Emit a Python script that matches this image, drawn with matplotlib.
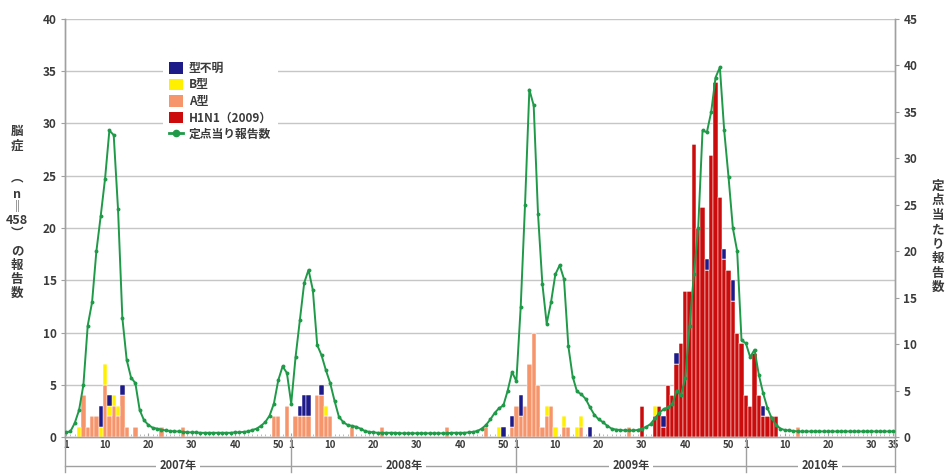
import matplotlib
matplotlib.use("Agg")
import matplotlib.pyplot as plt
from matplotlib.lines import Line2D
from matplotlib.patches import Patch
from matplotlib.transforms import blended_transform_factory
import numpy as np

plt.rcParams['font.family'] = ['Noto Sans CJK JP', 'DejaVu Sans']

# ---- data -------------------------------------------------------------
year_labels = ['2007年', '2008年', '2009年', '2010年']
weeks_in_year = [52, 52, 53, 35]
week_ticks = [[1, 10, 20, 30, 40, 50],
              [1, 10, 20, 30, 40, 50],
              [1, 10, 20, 30, 40, 50],
              [1, 10, 20, 30, 35]]

# influenza reports per sentinel site, weekly (right axis)
per_sentinel_2007 = [0.5, 0.6, 1.5, 2.9, 5.6, 12.0, 14.5, 20.0, 23.8, 27.8,
                     33.0, 32.5, 24.5, 12.8, 8.3, 6.4, 5.8, 2.9, 1.8, 1.3,
                     1.0, 0.9, 0.8, 0.7, 0.65, 0.6, 0.6, 0.55, 0.5, 0.5,
                     0.5, 0.45, 0.45, 0.45, 0.45, 0.45, 0.45, 0.45, 0.45, 0.5,
                     0.5, 0.55, 0.6, 0.75, 0.9, 1.2, 1.6, 2.3, 3.6, 6.1,
                     7.6, 6.9]
per_sentinel_2008 = [3.6, 8.6, 12.6, 16.6, 18.0, 15.8, 9.9, 8.8, 7.2, 5.8,
                     3.9, 2.2, 1.6, 1.3, 1.2, 1.1, 0.9, 0.65, 0.55, 0.5,
                     0.45, 0.45, 0.45, 0.45, 0.45, 0.4, 0.4, 0.4, 0.4, 0.4,
                     0.4, 0.4, 0.4, 0.4, 0.4, 0.4, 0.4, 0.45, 0.45, 0.45,
                     0.45, 0.5, 0.55, 0.65, 0.9, 1.3, 1.9, 2.6, 3.1, 3.4,
                     5.0, 7.0]
per_sentinel_2009 = [6.0, 14.0, 25.0, 37.4, 35.7, 24.0, 16.5, 12.2, 14.5, 17.5,
                     18.5, 17.0, 9.8, 6.5, 4.9, 4.6, 4.1, 3.2, 2.4, 1.9,
                     1.6, 1.2, 0.9, 0.8, 0.75, 0.7, 0.7, 0.7, 0.75, 0.9,
                     1.1, 1.4, 2.0, 2.6, 3.0, 3.2, 3.5, 5.0, 4.5, 6.3,
                     12.0, 17.5, 22.5, 33.0, 32.8, 35.0, 38.7, 39.8, 33.0, 28.0,
                     22.5, 20.0, 10.4]
per_sentinel_2010 = [10.1, 8.6, 9.4, 6.7, 4.7, 3.1, 2.0, 1.3, 0.9, 0.75,
                     0.7, 0.65, 0.6, 0.6, 0.6, 0.6, 0.6, 0.6, 0.6, 0.6,
                     0.6, 0.6, 0.6, 0.6, 0.6, 0.6, 0.6, 0.6, 0.6, 0.6,
                     0.6, 0.6, 0.6, 0.6, 0.6]

# encephalopathy reports by virus type, {week: count}
h1n1_2009 = {30: 3, 33: 2, 34: 3, 35: 1, 36: 5, 37: 4, 38: 7, 39: 9, 40: 14,
             41: 14, 42: 28, 43: 20, 44: 22, 45: 16, 46: 27, 47: 34, 48: 23,
             49: 17, 50: 16, 51: 13, 52: 10, 53: 9}
h1n1_2010 = {1: 4, 2: 3, 3: 8, 4: 4, 5: 2, 6: 2, 7: 2, 8: 2}

type_a_2007 = {5: 4, 6: 1, 7: 2, 8: 2, 10: 5, 11: 2, 12: 3, 13: 2, 14: 4,
               15: 1, 17: 1, 23: 1, 28: 1, 49: 2, 50: 2, 52: 3}
type_a_2008 = {2: 2, 3: 2, 4: 2, 5: 2, 7: 4, 8: 4, 9: 2, 10: 2, 15: 1,
               22: 1, 37: 1, 46: 1, 52: 1}
type_a_2009 = {1: 3, 2: 2, 3: 3, 4: 7, 5: 10, 6: 5, 7: 1, 8: 2, 9: 3,
               12: 1, 13: 1, 16: 1, 27: 1}
type_a_2010 = {13: 1}

type_b_2007 = {4: 1, 9: 1, 10: 2, 11: 1, 12: 1, 13: 1}
type_b_2008 = {9: 1, 49: 1}
type_b_2009 = {8: 1, 10: 1, 12: 1, 15: 1, 16: 1, 33: 1}

unknown_2007 = {9: 2, 11: 1, 14: 1}
unknown_2008 = {3: 1, 4: 2, 5: 2, 8: 1, 50: 1, 52: 1}
unknown_2009 = {2: 2, 18: 1, 35: 1, 38: 1, 45: 1, 49: 1, 51: 2}
unknown_2010 = {5: 1}

# ---- helpers ----------------------------------------------------------
offsets = np.concatenate([[0], np.cumsum(weeks_in_year)[:-1]])
n_weeks = int(sum(weeks_in_year))
years = [2007, 2008, 2009, 2010]


def weekly(by_year):
    arr = np.zeros(n_weeks)
    for yr, counts in by_year.items():
        off = offsets[years.index(yr)]
        for wk, v in counts.items():
            arr[off + wk - 1] = v
    return arr


h1n1 = weekly({2009: h1n1_2009, 2010: h1n1_2010})
type_a = weekly({2007: type_a_2007, 2008: type_a_2008,
                 2009: type_a_2009, 2010: type_a_2010})
type_b = weekly({2007: type_b_2007, 2008: type_b_2008, 2009: type_b_2009})
unknown = weekly({2007: unknown_2007, 2008: unknown_2008,
                  2009: unknown_2009, 2010: unknown_2010})
per_sentinel = np.array(per_sentinel_2007 + per_sentinel_2008 +
                        per_sentinel_2009 + per_sentinel_2010)
x = np.arange(n_weeks)

# ---- colours ----------------------------------------------------------
c_unknown = '#1d1a8a'
c_b = '#fff000'
c_a = '#f6956b'
c_h1n1 = '#cc0c0c'
c_line = '#1f9a48'
c_grid = '#c6c6c6'
c_axis = '#a0a0a0'
c_text = '#3a3a3a'

W, H = 946, 474
fig = plt.figure(figsize=(W / 100, H / 100), dpi=100)
left_px, right_px, top_px, bot_px = 65, 895, 19, 437
ax = fig.add_axes([left_px / W, 1 - bot_px / H,
                   (right_px - left_px) / W, (bot_px - top_px) / H])
ax2 = ax.twinx()

# stacked bars
bottom = np.zeros(n_weeks)
for vals, col in [(h1n1, c_h1n1), (type_a, c_a), (type_b, c_b),
                  (unknown, c_unknown)]:
    ax.bar(x, vals, width=1.0, bottom=bottom, color=col,
           edgecolor='white', linewidth=0.35, zorder=3)
    bottom = bottom + vals

ax.set_ylim(0, 40)
ax.set_yticks(np.arange(0, 41, 5))
ax2.set_ylim(0, 45)
ax2.set_yticks(np.arange(0, 46, 5))
ax.set_xlim(-0.25, n_weeks - 1 + 0.45)

ax.yaxis.grid(True, color=c_grid, linewidth=1.0, zorder=0)
ax.set_axisbelow(True)

ax2.plot(x, per_sentinel, color=c_line, linewidth=1.4, marker='o',
         markersize=2.8, markeredgewidth=0, zorder=5)

# x ticks: week numbers within each year
tick_pos, tick_lab = [], []
for off, wks in zip(offsets, week_ticks):
    for wk in wks:
        tick_pos.append(off + wk - 1)
        tick_lab.append(str(wk))
ax.set_xticks(tick_pos)
ax.set_xticklabels(tick_lab, fontweight='bold')
ax.set_xticks(x, minor=True)
ax.tick_params(axis='x', which='major', length=3, direction='in',
               color=c_axis, labelsize=7, labelcolor=c_text, pad=2)
ax.tick_params(axis='x', which='minor', length=2, direction='in',
               color='#b0b0b0', width=0.6)
ax.tick_params(axis='y', length=3, color=c_axis, labelsize=8.5,
               labelcolor=c_text, pad=3)
ax2.tick_params(axis='y', length=3, color=c_axis, labelsize=8.5,
                labelcolor=c_text, pad=3)
for lab in ax.get_yticklabels() + ax2.get_yticklabels():
    lab.set_fontweight('bold')

for a in (ax, ax2):
    a.spines['top'].set_visible(False)
    for s in ('left', 'right', 'bottom'):
        a.spines[s].set_color(c_axis)
        a.spines[s].set_linewidth(1.0)

# year band under the axis
tr = blended_transform_factory(ax.transData, ax.transAxes)
band_y = -(466 - bot_px) / (bot_px - top_px)
band_bottom = -(472 - bot_px) / (bot_px - top_px)
edges = [-0.25] + [o for o in offsets[1:]] + [n_weeks - 1 + 0.45]
for e in edges:
    ax.plot([e, e], [0, band_bottom], transform=tr, color=c_axis,
            linewidth=1.0, clip_on=False)
ax.plot([edges[0], edges[-1]], [band_y, band_y], transform=tr,
        color=c_axis, linewidth=1.0, clip_on=False)
for i, lab in enumerate(year_labels):
    mid = (edges[i] + edges[i + 1]) / 2
    ax.text(mid, band_y, lab, transform=tr, ha='center', va='center',
            fontsize=8, color=c_text, fontweight='bold',
            bbox=dict(boxstyle='square,pad=0.3', fc='white', ec='none'))

# vertical axis titles, one glyph per row
left_title = ['脳', '症', '︵', 'n', '‖', '458', '︶', 'の', '報', '告', '数']
left_rows = [131, 146, 178, 195, 207, 221, 233, 251, 265, 279, 293]
for tok, yp in zip(left_title, left_rows):
    fig.text(17 / W, 1 - yp / H, tok, ha='center', va='center',
             fontsize=9, color=c_text, fontweight='bold')
right_title = list('定点当たり報告数')
for i, tok in enumerate(right_title):
    yp = 186 + i * 14.5
    fig.text(938 / W, 1 - yp / H, tok, ha='center', va='center',
             fontsize=9, color=c_text, fontweight='bold')

# legend
handles = [Patch(facecolor=c_unknown, edgecolor='none'),
           Patch(facecolor=c_b, edgecolor='none'),
           Patch(facecolor=c_a, edgecolor='none'),
           Patch(facecolor=c_h1n1, edgecolor='none'),
           Line2D([], [], color=c_line, linewidth=2, marker='o',
                  markersize=4.5)]
labels = ['型不明', 'B型', 'A型', 'H1N1（2009）', '定点当り報告数']
leg = ax2.legend(handles, labels, loc='upper left',
                 bbox_to_anchor=(163 / W, 1 - 56 / H),
                 bbox_transform=fig.transFigure, frameon=True,
                 facecolor='white', edgecolor='none', framealpha=1,
                 fancybox=False, fontsize=8.5, handlelength=1.2,
                 handleheight=1.1, handletextpad=0.5, labelspacing=0.3,
                 borderpad=0.5, borderaxespad=0)
for t in leg.get_texts():
    t.set_color(c_text)
    t.set_fontweight('bold')

fig.savefig('out.png', dpi=100)
